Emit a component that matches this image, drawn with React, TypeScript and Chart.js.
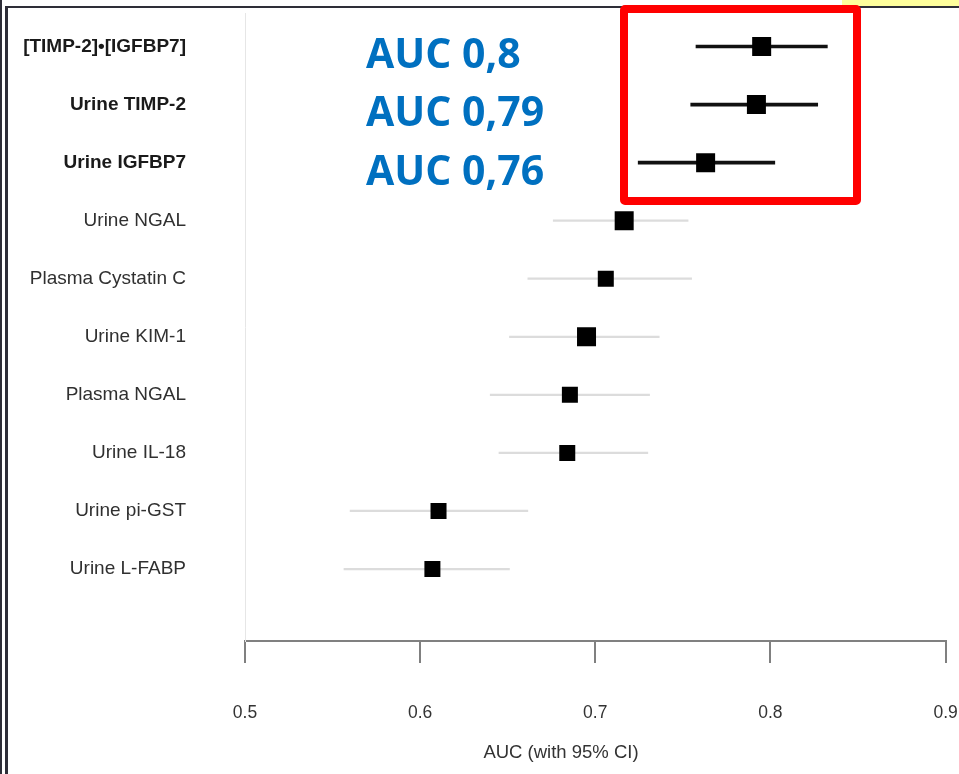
import React, { useEffect, useRef } from "react";
import { Chart, registerables } from "chart.js";

Chart.register(...registerables);

// ---- data ----
const markers = [
  "[TIMP-2]•[IGFBP7]",
  "Urine TIMP-2",
  "Urine IGFBP7",
  "Urine NGAL",
  "Plasma Cystatin C",
  "Urine KIM-1",
  "Plasma NGAL",
  "Urine IL-18",
  "Urine pi-GST",
  "Urine L-FABP",
];
const auc = [0.795, 0.792, 0.763, 0.7165, 0.706, 0.695, 0.6855, 0.684, 0.6105, 0.607];
const ciLow = [0.7575, 0.7545, 0.7245, 0.676, 0.6615, 0.651, 0.64, 0.645, 0.56, 0.5565];
const ciHigh = [0.8325, 0.827, 0.8025, 0.753, 0.755, 0.7365, 0.731, 0.73, 0.6615, 0.651];
const markerSides = [19, 19, 19, 19, 16, 19, 16, 16, 16, 16];
const xTicks = [0.5, 0.6, 0.7, 0.8, 0.9];
const aucCallouts = ["AUC 0,8", "AUC 0,79", "AUC 0,76"];
const highlightedCount = 3;
const xTitle = "AUC (with 95% CI)";

const FAMILY = "'Liberation Sans', Arial, Helvetica, sans-serif";

export default function App() {
  const canvasRef = useRef<HTMLCanvasElement | null>(null);

  useEffect(() => {
    document.body.style.margin = "0";
    const canvas = canvasRef.current;
    if (!canvas) return;

    const rows = markers.map((_, i) => i);
    const hiRows = rows.filter((i) => i < highlightedCount);
    const loRows = rows.filter((i) => i >= highlightedCount);

    const chart = new Chart(canvas, {
      type: "bar",
      data: {
        datasets: [
          {
            type: "scatter",
            order: 0,
            data: rows.map((i) => ({ x: auc[i], y: i })),
            pointStyle: "rect",
            pointRadius: (ctx: any) => markerSides[ctx.dataIndex] / Math.SQRT2,
            pointHoverRadius: (ctx: any) => markerSides[ctx.dataIndex] / Math.SQRT2,
            backgroundColor: "#000000",
            borderColor: "#000000",
            borderWidth: 0,
            pointBorderWidth: 0,
          } as any,
          {
            type: "bar",
            order: 1,
            data: hiRows.map((i) => ({ x: [ciLow[i], ciHigh[i]], y: i })),
            backgroundColor: "#111111",
            borderWidth: 0,
            barThickness: 3,
            grouped: false,
          } as any,
          {
            type: "bar",
            order: 2,
            data: loRows.map((i) => ({ x: [ciLow[i], ciHigh[i]], y: i })),
            backgroundColor: "#dcdcdc",
            borderWidth: 0,
            barThickness: 1.6,
            grouped: false,
          } as any,
        ],
      },
      options: {
        indexAxis: "y",
        animation: false,
        responsive: true,
        maintainAspectRatio: false,
        events: [],
        layout: { padding: { left: 0, right: 12, top: 13, bottom: 0 } },
        plugins: {
          legend: { display: false },
          tooltip: { enabled: false },
          title: { display: false },
        },
        scales: {
          x: {
            type: "linear",
            min: 0.5,
            max: 0.9,
            offset: false,
            afterBuildTicks: (s: any) => {
              s.ticks = xTicks.map((v) => ({ value: v }));
            },
            afterFit: (s: any) => {
              s.height = 133;
              s.paddingLeft = 0;
              s.paddingRight = 0;
            },
            grid: {
              drawOnChartArea: false,
              drawTicks: true,
              tickLength: 22,
              color: "#808080",
              lineWidth: 2,
              offset: false,
            },
            border: { display: true, color: "#808080", width: 2 },
            ticks: {
              padding: 40,
              color: "#333333",
              autoSkip: false,
              maxRotation: 0,
              font: { family: FAMILY, size: 17.5 },
              callback: (v: any) => Number(v).toFixed(1),
            },
          },
          y: {
            type: "linear",
            reverse: true,
            min: -0.57,
            max: 10.24,
            offset: false,
            afterBuildTicks: (s: any) => {
              s.ticks = markers.map((_, i) => ({ value: i }));
            },
            afterFit: (s: any) => {
              s.width = 245;
              s.paddingTop = 0;
              s.paddingBottom = 0;
            },
            grid: { display: false, drawTicks: false, offset: false },
            border: { display: true, color: "#e6e6e6", width: 1 },
            ticks: {
              autoSkip: false,
              padding: 59,
              color: (ctx: any) => (ctx.index < highlightedCount ? "#1a1a1a" : "#303030"),
              font: (ctx: any) => ({
                family: FAMILY,
                size: 19,
                weight: ctx.index < highlightedCount ? "bold" : "normal",
              }),
              callback: (v: any) => markers[Math.round(Number(v))] ?? "",
            },
          },
        },
      } as any,
    });

    return () => chart.destroy();
  }, []);

  const frameColor = "#2e2e38";
  const calloutTops = [32, 90, 149];

  return (
    <div
      style={{
        position: "absolute",
        left: 0,
        top: 0,
        width: 959,
        height: 774,
        overflow: "hidden",
        background: "#ffffff",
      }}
    >
      <canvas ref={canvasRef} style={{ position: "absolute", left: 0, top: 0 }} />
      {/* x axis title */}
      <div
        style={{
          position: "absolute",
          left: 561,
          top: 752,
          transform: "translate(-50%, -50%)",
          fontFamily: FAMILY,
          fontSize: 18.5,
          color: "#333333",
          whiteSpace: "nowrap",
        }}
      >
        {xTitle}
      </div>
      {/* frame */}
      <div style={{ position: "absolute", left: 0, top: 0, width: 2, height: 774, background: frameColor }} />
      <div style={{ position: "absolute", left: 5, top: 6, width: 3, height: 768, background: frameColor }} />
      <div style={{ position: "absolute", left: 5, top: 6, width: 954, height: 2, background: frameColor }} />
      <div style={{ position: "absolute", left: 842, top: 0, width: 117, height: 6, background: "#fefe9c" }} />
      {/* highlight box */}
      <div
        style={{
          position: "absolute",
          left: 620,
          top: 5,
          width: 241,
          height: 200,
          boxSizing: "border-box",
          border: "8px solid #ff0000",
          borderRadius: 5,
        }}
      />
      {aucCallouts.map((t, i) => (
        <div
          key={t}
          style={{
            position: "absolute",
            left: 366,
            top: calloutTops[i],
            fontFamily: "'Open Sans', 'Noto Sans', sans-serif",
            fontWeight: 700,
            fontSize: 41,
            lineHeight: "40px",
            color: "#0070c0",
            whiteSpace: "nowrap",
          }}
        >
          {t}
        </div>
      ))}
    </div>
  );
}
